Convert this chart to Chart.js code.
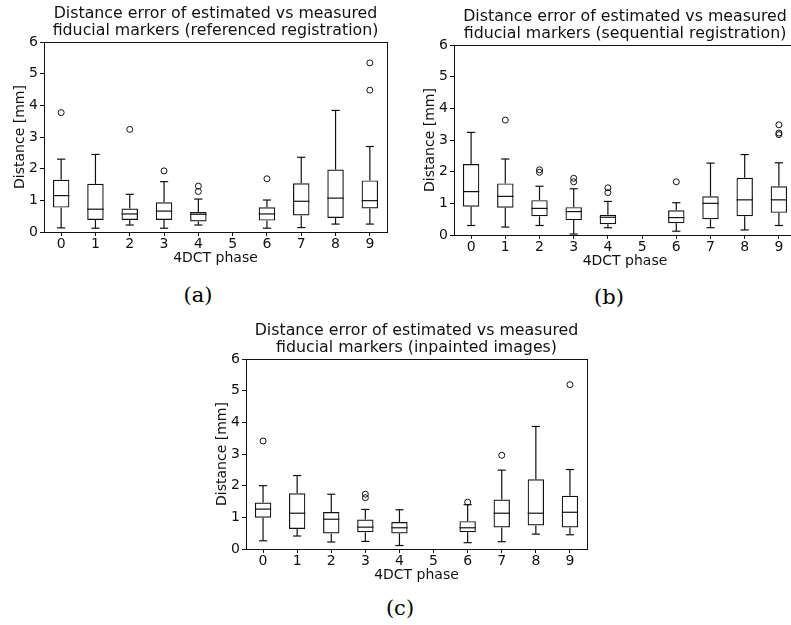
<!DOCTYPE html>
<html lang="en">
<head>
<meta charset="UTF-8">
<title>Distance error of estimated vs measured fiducial markers</title>
<script src="https://cdn.jsdelivr.net/npm/chart.js"></script>
<style>
  html, body { margin: 0; padding: 0; background: #fff; }
  body { position: relative; width: 791px; height: 625px; overflow: hidden; }
  canvas { position: absolute; }
  .sub {
    position: absolute;
    font-family: "DejaVu Serif", serif;
    font-size: 21px;
    color: #000;
    transform: translate(-50%, -50%);
  }
</style>
</head>
<body>
<canvas id="chartA" width="431" height="272" style="left:0px;top:0px"></canvas>
<canvas id="chartB" width="430" height="272" style="left:410px;top:3px"></canvas>
<canvas id="chartC" width="429" height="272" style="left:202px;top:317px"></canvas>
<div class="sub" style="left:198px;top:295px">(a)</div>
<div class="sub" style="left:609px;top:297px">(b)</div>
<div class="sub" style="left:400px;top:608px">(c)</div>

<script>
const phases = ['0', '1', '2', '3', '4', '5', '6', '7', '8', '9'];

// (a) referenced registration: whisker ends, quartiles, medians, fliers
const refLow  = [0.13, 0.12, 0.22, 0.12, 0.22, null, 0.12, 0.14, 0.25, 0.25];
const refQ1   = [0.77, 0.38, 0.38, 0.38, 0.33, null, 0.36, 0.52, 0.44, 0.74];
const refMed  = [1.15, 0.72, 0.57, 0.66, 0.56, null, 0.57, 0.97, 1.07, 0.99];
const refQ3   = [1.65, 1.52, 0.74, 0.94, 0.63, null, 0.78, 1.54, 1.97, 1.63];
const refHigh = [2.30, 2.45, 1.19, 1.59, 1.04, null, 1.01, 2.36, 3.84, 2.70];
const refOut  = [[3.77], [], [3.24], [1.93], [1.45, 1.28], [], [1.68], [], [], [5.34, 4.48]];

// (b) sequential registration
const seqLow  = [0.30, 0.25, 0.30, 0.03, 0.23, null, 0.12, 0.23, 0.16, 0.30];
const seqQ1   = [0.89, 0.86, 0.59, 0.47, 0.34, null, 0.37, 0.50, 0.59, 0.70];
const seqMed  = [1.37, 1.22, 0.84, 0.74, 0.56, null, 0.55, 1.00, 1.11, 1.11];
const seqQ3   = [2.24, 1.63, 1.10, 0.88, 0.64, null, 0.78, 1.22, 1.81, 1.54];
const seqHigh = [3.24, 2.40, 1.54, 1.46, 1.06, null, 1.02, 2.27, 2.54, 2.28];
const seqOut  = [[], [3.63], [2.06, 1.98], [1.79, 1.68], [1.49, 1.34], [], [1.68], [], [], [3.48, 3.22, 3.17]];

// (c) inpainted images
const inpLow  = [0.26, 0.41, 0.22, 0.24, 0.11, null, 0.20, 0.23, 0.47, 0.45];
const inpQ1   = [0.99, 0.63, 0.49, 0.53, 0.49, null, 0.53, 0.68, 0.74, 0.68];
const inpMed  = [1.26, 1.13, 0.94, 0.69, 0.67, null, 0.67, 1.13, 1.13, 1.16];
const inpQ3   = [1.47, 1.76, 1.17, 0.93, 0.85, null, 0.88, 1.56, 2.20, 1.68];
const inpHigh = [2.00, 2.32, 1.73, 1.25, 1.24, null, 1.40, 2.49, 3.87, 2.51];
const inpOut  = [[3.41], [], [], [1.73, 1.62], [], [], [1.48], [2.96], [], [5.19]];

const ink = '#111';
const FONT = '"DejaVu Sans", sans-serif';

// whiskers, caps, medians and the axes frame, drawn on top of the boxes
function whiskerPlugin(low, q1, med, q3, high) {
  return {
    id: 'whiskers',
    afterLayout(chart) {
      // centre the title over the plot area instead of the whole canvas
      const t = chart.titleBlock;
      t.left = chart.chartArea.left;
      t.right = chart.chartArea.right;
      t.width = t.right - t.left;
    },
    afterDatasetsDraw(chart) {
      const { ctx, chartArea, scales: { x, y } } = chart;
      const boxes = chart.getDatasetMeta(0).data;
      ctx.save();
      ctx.strokeStyle = ink;
      ctx.lineWidth = 1.2;
      const line = (x0, y0, x1, y1) => {
        ctx.beginPath();
        ctx.moveTo(x0, y0);
        ctx.lineTo(x1, y1);
        ctx.stroke();
      };
      phases.forEach((p, i) => {
        if (med[i] == null) return;
        const cx = x.getPixelForValue(i);
        const half = boxes[i].width / 2;
        const yHi = y.getPixelForValue(high[i]);
        const yLo = y.getPixelForValue(low[i]);
        const yMed = y.getPixelForValue(med[i]);
        line(cx, y.getPixelForValue(q3[i]), cx, yHi);
        line(cx, y.getPixelForValue(q1[i]), cx, yLo);
        line(cx - half / 2, yHi, cx + half / 2, yHi);
        line(cx - half / 2, yLo, cx + half / 2, yLo);
        line(cx - half, yMed, cx + half, yMed);
      });
      ctx.lineWidth = 1;
      ctx.strokeRect(Math.round(chartArea.left) + 0.5, Math.round(chartArea.top) + 0.5,
        Math.round(chartArea.width), Math.round(chartArea.height));
      ctx.restore();
    }
  };
}

function makePanel(id, title, low, q1, med, q3, high, out) {
  const fliers = [];
  out.forEach((vals, i) => vals.forEach(v => fliers.push({ x: phases[i], y: v })));

  return new Chart(document.getElementById(id), {
    type: 'bar',
    data: {
      labels: phases,
      datasets: [{
        data: phases.map((p, i) => q1[i] == null ? null : [q1[i], q3[i]]),
        backgroundColor: 'rgba(0,0,0,0)',
        borderColor: ink,
        borderWidth: 1.2,
        borderSkipped: false,
        barPercentage: 0.48,
        categoryPercentage: 1
      }, {
        type: 'scatter',
        data: fliers,
        pointStyle: 'circle',
        pointRadius: 3,
        borderWidth: 1,
        borderColor: ink,
        backgroundColor: 'rgba(0,0,0,0)'
      }]
    },
    options: {
      responsive: false,
      animation: false,
      layout: { padding: { left: 0, right: 44, top: 0, bottom: 0 } },
      plugins: {
        legend: { display: false },
        tooltip: { enabled: false },
        title: {
          display: true,
          text: title,
          color: ink,
          font: { family: FONT, size: 15.8, weight: 'normal', lineHeight: 1.076 },
          padding: { top: 5, bottom: 3 }
        }
      },
      scales: {
        x: {
          offset: true,
          grid: { offset: false, drawOnChartArea: false, tickLength: 4, color: ink },
          border: { display: false },
          ticks: { color: ink, font: { family: FONT, size: 14 }, padding: 0, maxRotation: 0 },
          title: {
            display: true, text: '4DCT phase', color: ink,
            font: { family: FONT, size: 14 }, padding: { top: 0, bottom: 5 }
          },
          afterFit: s => { s.height = 40; }
        },
        y: {
          min: 0,
          max: 6,
          grid: { drawOnChartArea: false, tickLength: 4, color: ink },
          border: { display: false },
          ticks: { stepSize: 1, color: ink, font: { family: FONT, size: 14 }, padding: 2 },
          title: {
            display: true, text: 'Distance [mm]', color: ink,
            font: { family: FONT, size: 14 }, padding: { top: 12, bottom: 0 }
          },
          afterFit: s => { s.width = 44; }
        }
      }
    },
    plugins: [whiskerPlugin(low, q1, med, q3, high)]
  });
}

makePanel('chartA',
  ['Distance error of estimated vs measured', 'fiducial markers (referenced registration)'],
  refLow, refQ1, refMed, refQ3, refHigh, refOut);
makePanel('chartB',
  ['Distance error of estimated vs measured', 'fiducial markers (sequential registration)'],
  seqLow, seqQ1, seqMed, seqQ3, seqHigh, seqOut);
makePanel('chartC',
  ['Distance error of estimated vs measured', 'fiducial markers (inpainted images)'],
  inpLow, inpQ1, inpMed, inpQ3, inpHigh, inpOut);
</script>
</body>
</html>
